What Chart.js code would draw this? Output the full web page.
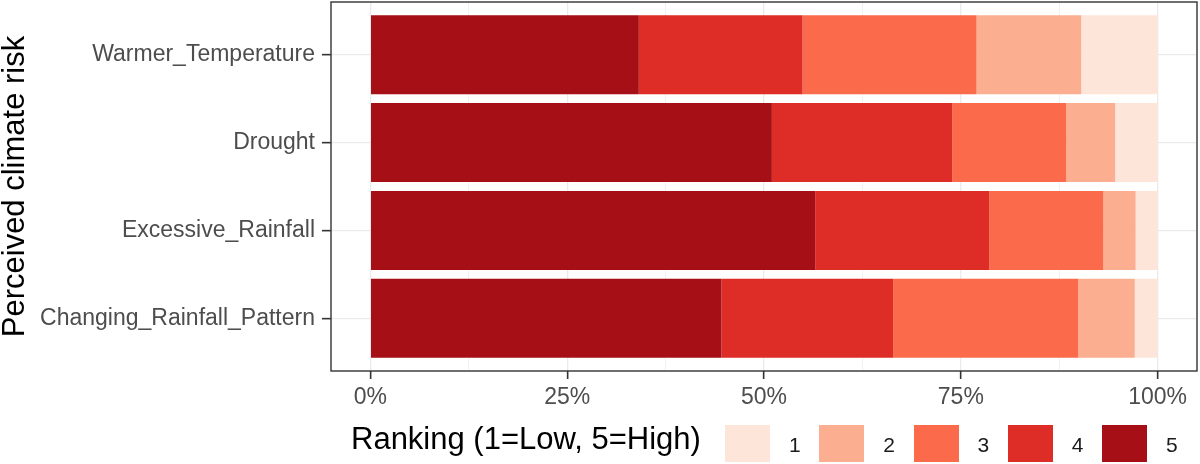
<!DOCTYPE html>
<html>
<head>
<meta charset="utf-8">
<script src="https://cdn.jsdelivr.net/npm/chart.js@4.4.0/dist/chart.umd.min.js"></script>
<style>
    html, body { margin: 0; padding: 0; background: #fff; }
    #wrap { position: relative; width: 1200px; height: 464px; font-family: "Liberation Sans", Arial, sans-serif; }
    #legend-title { position: absolute; left: 351px; top: 423px; font-size: 31px; line-height: 31px; color: #000; white-space: nowrap; }
    .key { position: absolute; top: 425px; width: 45px; height: 37px; }
    .key-label { position: absolute; top: 434px; font-size: 21px; line-height: 21px; color: #1a1a1a; }
</style>
</head>
<body>
<div id="wrap">
    <canvas id="risk-chart"></canvas>
    <div id="legend-title">Ranking (1=Low, 5=High)</div>
</div>
<script>
// categories, top to bottom
const risks = ["Warmer_Temperature", "Drought", "Excessive_Rainfall", "Changing_Rainfall_Pattern"];
const rankings = ["1", "2", "3", "4", "5"];

// share of respondents (%) per ranking, same order as risks
const rank1 = [9.7, 5.4, 2.8, 2.9];
const rank2 = [13.3, 6.2, 4.1, 7.2];
const rank3 = [22.1, 14.5, 14.5, 23.5];
const rank4 = [20.8, 22.9, 22.1, 21.8];
const rank5 = [34.1, 51.0, 56.5, 44.6];

const rankColors = ["#FEE5D9", "#FCAE91", "#FB6A4A", "#DE2D26", "#A50F15"];

const xMajorTicks = [0, 25, 50, 75, 100];
const xMinorTicks = [12.5, 37.5, 62.5, 87.5];

Chart.defaults.font.family = "'Liberation Sans', Arial, sans-serif";
Chart.defaults.animation = false;

const rankValues = [rank1, rank2, rank3, rank4, rank5];

// ggplot stacks 5 on the left, so push the datasets from 5 down to 1
let datasets = [];
for (let r = rankValues.length - 1; r >= 0; r--) {
    datasets.push({
        label: rankings[r],
        data: rankValues[r].map((v, i) => ({ x: v, y: i + 1 })),
        backgroundColor: rankColors[r],
        borderWidth: 0,
        barPercentage: 0.9,
        categoryPercentage: 1.0
    });
}

const panelBorder = {
    id: "panelBorder",
    afterDraw(chart) {
        const { ctx, chartArea } = chart;
        ctx.save();
        ctx.strokeStyle = "#333333";
        ctx.lineWidth = 1.4;
        ctx.strokeRect(chartArea.left, chartArea.top, chartArea.right - chartArea.left, chartArea.bottom - chartArea.top);
        ctx.restore();
    }
};

function isMajor(ctx) {
    return ctx.tick && xMajorTicks.includes(ctx.tick.value);
}

new Chart(document.getElementById("risk-chart"), {
    type: "bar",
    data: { datasets: datasets },
    options: {
        indexAxis: "y",
        responsive: true,
        maintainAspectRatio: false,
        layout: { padding: { top: 2, right: 3, bottom: 50, left: 0 } },
        plugins: {
            legend: { display: false },
            tooltip: { enabled: false }
        },
        scales: {
            x: {
                type: "linear",
                min: -5,
                max: 105,
                stacked: true,
                afterBuildTicks: (scale) => {
                    scale.ticks = xMajorTicks.concat(xMinorTicks).sort((a, b) => a - b).map((v) => ({ value: v }));
                },
                afterFit: (scale) => { scale.height = 43; },
                ticks: {
                    autoSkip: false,
                    maxRotation: 0,
                    padding: 5,
                    color: "#4d4d4d",
                    font: { size: 23 },
                    callback: (v) => xMajorTicks.includes(v) ? v + "%" : ""
                },
                grid: {
                    color: "#ebebeb",
                    lineWidth: (ctx) => isMajor(ctx) ? 1.3 : 0.7,
                    tickLength: 8,
                    tickWidth: 1.6,
                    tickColor: (ctx) => isMajor(ctx) ? "#333333" : "rgba(0,0,0,0)"
                },
                border: { display: false }
            },
            y: {
                type: "linear",
                min: 0.4,
                max: 4.6,
                reverse: true,
                stacked: true,
                offset: false,
                afterBuildTicks: (scale) => {
                    scale.ticks = risks.map((r, i) => ({ value: i + 1 }));
                },
                afterFit: (scale) => {
                    scale.width = 331;
                    scale.paddingTop = 0;
                    scale.paddingBottom = 0;
                },
                ticks: {
                    autoSkip: false,
                    padding: 7,
                    color: "#4d4d4d",
                    font: { size: 23 },
                    callback: (v) => risks[v - 1]
                },
                grid: {
                    offset: false,
                    color: "#ebebeb",
                    lineWidth: 1.3,
                    tickLength: 9,
                    tickWidth: 1.6,
                    tickColor: "#333333"
                },
                border: { display: false },
                title: {
                    display: true,
                    text: "Perceived climate risk",
                    color: "#000000",
                    font: { size: 31, lineHeight: 1 },
                    padding: 0
                }
            }
        }
    },
    plugins: [panelBorder]
});

// legend keys, listed 1 to 5 as in the original
const wrap = document.getElementById("wrap");
rankings.forEach((label, i) => {
    const left = 725 + i * 94.25;
    let key = document.createElement("div");
    key.className = "key";
    key.style.left = left + "px";
    key.style.background = rankColors[i];
    wrap.appendChild(key);

    let text = document.createElement("div");
    text.className = "key-label";
    text.style.left = (left + 64) + "px";
    text.textContent = label;
    wrap.appendChild(text);
});
</script>
</body>
</html>
